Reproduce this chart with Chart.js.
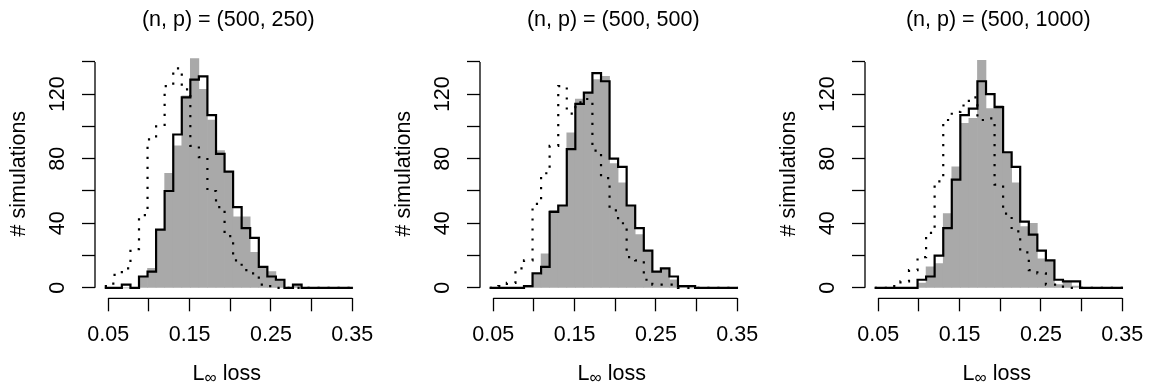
<!DOCTYPE html>
<html>
<head>
<meta charset="utf-8">
<script src="https://cdn.jsdelivr.net/npm/chart.js@4.4.1/dist/chart.umd.min.js"></script>
<style>
  html, body { margin: 0; padding: 0; background: #fff; overflow: hidden; }
  #paneles { position: relative; width: 1151px; height: 385px; overflow: hidden; }
  #paneles canvas { position: absolute; top: 0; }
</style>
</head>
<body>
<div id="paneles">
  <canvas id="panel1" width="385" height="385" style="left:0px"></canvas>
  <canvas id="panel2" width="385" height="385" style="left:385px"></canvas>
  <canvas id="panel3" width="385" height="385" style="left:770px"></canvas>
</div>
<script>
// titulos de cada panel
const titulos = ['(n, p) = (500, 250)', '(n, p) = (500, 500)', '(n, p) = (500, 1000)']

// bordes de las 29 clases del histograma (L-inf loss)
const binEdges = [
  0.0457, 0.0562, 0.0667, 0.0773, 0.0878, 0.0983, 0.1088, 0.1193, 0.1299, 0.1404,
  0.1509, 0.1614, 0.1719, 0.1825, 0.1930, 0.2035, 0.2140, 0.2245, 0.2351, 0.2456,
  0.2561, 0.2666, 0.2771, 0.2877, 0.2982, 0.3087, 0.3192, 0.3297, 0.3403, 0.3508
]

const xTicks = [0.05, 0.10, 0.15, 0.20, 0.25, 0.30, 0.35]
const xTickLabels = ['0.05', '', '0.15', '', '0.25', '', '0.35']
const yTicks = [0, 20, 40, 60, 80, 100, 120, 140]
const yTickLabels = ['0', '', '40', '', '80', '', '120', '']
const yTitle = '# simulations'
const xLabelMain = 'L'
const xLabelSub = '∞'
const xLabelRest = ' loss'

// (500, 250)
const greyHist250 = [0, 0, 0, 0, 7, 12, 36, 71, 88, 119, 142, 123, 104, 85, 72, 44, 44, 22, 13, 10, 5, 0, 1, 0, 0, 0, 0, 0, 0]
const solidStep250 = [0, 0, 2, 0, 7, 10, 36, 60, 95, 118, 129, 131, 107, 83, 72, 50, 37, 31, 13, 7, 5, 0, 2, 0, 0, 0, 0, 0, 0]
const dottedStep250 = [1, 8, 12, 24, 45, 92, 100, 125, 136, 123, 88, 81, 60, 50, 32, 17, 11, 9, 2, 1, 0, 0, 0, 0, 0, 0, 0, 0, 0]

// (500, 500)
const greyHist500 = [0, 0, 0, 0, 1, 8, 21, 48, 51, 96, 117, 121, 129, 131, 77, 65, 51, 33, 23, 10, 12, 5, 1, 0, 0, 0, 0, 0, 0]
const solidStep500 = [0, 0, 0, 0, 1, 9, 13, 47, 51, 86, 114, 121, 133, 128, 80, 75, 51, 37, 23, 10, 12, 7, 1, 1, 0, 0, 0, 0, 0]
const dottedStep500 = [0, 1, 3, 12, 17, 52, 71, 88, 125, 108, 115, 117, 85, 68, 48, 40, 19, 17, 5, 2, 2, 2, 0, 0, 0, 0, 0, 0, 0]

// (500, 1000)
const greyHist1000 = [0, 0, 0, 0, 0, 3, 13, 15, 46, 75, 102, 105, 141, 111, 113, 84, 65, 38, 40, 18, 17, 2, 4, 1, 0, 0, 0, 0, 0]
const solidStep1000 = [0, 0, 0, 0, 0, 5, 7, 20, 37, 67, 107, 111, 128, 120, 112, 84, 75, 41, 33, 23, 17, 5, 4, 4, 0, 0, 0, 0, 0]
const dottedStep1000 = [0, 0, 1, 4, 11, 19, 34, 66, 104, 109, 113, 118, 104, 105, 64, 46, 35, 22, 11, 9, 2, 2, 0, 0, 0, 0, 0, 0, 0]

Chart.defaults.font.family = "'Liberation Sans', Arial, sans-serif"

/**
 * puntos para una linea escalonada: cada conteo desde su borde izquierdo
 */
function stepPoints(counts) {
  let puntos = counts.map((c, i) => ({ x: binEdges[i], y: c }))
  puntos.push({ x: binEdges[counts.length], y: counts[counts.length - 1] })
  return puntos
}

/**
 * barras del histograma centradas en su clase
 */
function barPoints(counts) {
  return counts.map((c, i) => ({ x: (binEdges[i] + binEdges[i + 1]) / 2, y: c }))
}

/**
 * ejes al estilo R (solo entre el primer y ultimo tick) y etiqueta L∞ loss
 */
const ejesR = {
  id: 'ejesR',
  afterDraw(chart) {
    const { ctx, chartArea, scales: { x, y } } = chart
    ctx.save()
    ctx.strokeStyle = '#000'
    ctx.lineWidth = 1.3
    ctx.beginPath()
    ctx.moveTo(x.getPixelForValue(xTicks[0]), chartArea.bottom)
    ctx.lineTo(x.getPixelForValue(xTicks[xTicks.length - 1]), chartArea.bottom)
    ctx.moveTo(chartArea.left, y.getPixelForValue(yTicks[0]))
    ctx.lineTo(chartArea.left, y.getPixelForValue(yTicks[yTicks.length - 1]))
    ctx.stroke()

    const fuente = "'Liberation Sans', Arial, sans-serif"
    ctx.fillStyle = '#000'
    ctx.textBaseline = 'alphabetic'
    ctx.textAlign = 'left'
    ctx.font = '21.5px ' + fuente
    const wMain = ctx.measureText(xLabelMain).width
    const wRest = ctx.measureText(xLabelRest).width
    ctx.font = '17px ' + fuente
    const wSub = ctx.measureText(xLabelSub).width
    const centro = (chartArea.left + chartArea.right) / 2 - 1.5
    let xi = centro - (wMain + wSub + wRest) / 2
    const base = chartArea.bottom + 81.7
    ctx.font = '21.5px ' + fuente
    ctx.fillText(xLabelMain, xi, base)
    ctx.font = '17px ' + fuente
    ctx.fillText(xLabelSub, xi + wMain, base + 2.5)
    ctx.font = '21.5px ' + fuente
    ctx.fillText(xLabelRest, xi + wMain + wSub, base)
    ctx.restore()
  }
}

function crearPanel(canvasId, titulo, gris, solida, punteada) {
  const ctx = document.getElementById(canvasId)

  return new Chart(ctx, {
    type: 'bar',
    data: {
      datasets: [
        {
          type: 'line',
          label: 'solid',
          data: stepPoints(solida),
          stepped: true,
          borderColor: '#000',
          borderWidth: 2.2,
          borderJoinStyle: 'miter',
          pointRadius: 0,
          fill: false,
          order: 0
        },
        {
          type: 'line',
          label: 'dotted',
          data: stepPoints(punteada),
          stepped: true,
          borderColor: '#000',
          borderWidth: 2.2,
          borderDash: [2.2, 7.8],
          pointRadius: 0,
          fill: false,
          order: 1
        },
        {
          type: 'bar',
          label: 'hist',
          data: barPoints(gris),
          backgroundColor: '#a9a9a9',
          borderWidth: 0,
          barPercentage: 1,
          categoryPercentage: 1,
          order: 2
        }
      ]
    },
    options: {
      responsive: false,
      animation: false,
      devicePixelRatio: 1,
      layout: { padding: { left: 0, right: 22.4, top: 0, bottom: 0 } },
      plugins: {
        legend: { display: false },
        tooltip: { enabled: false },
        title: {
          display: true,
          text: titulo,
          fullSize: false,
          color: '#000',
          font: { size: 21.5, weight: 'normal' },
          padding: { top: 7, bottom: 16.2 }
        }
      },
      scales: {
        x: {
          type: 'linear',
          min: 0.0337,
          max: 0.3614,
          offset: false,
          border: { display: false },
          grid: { drawOnChartArea: false, drawTicks: true, tickLength: 13, tickColor: '#000', tickWidth: 1.3, offset: false },
          ticks: {
            color: '#000',
            font: { size: 21.5 },
            padding: 11,
            autoSkip: false,
            maxRotation: 0,
            minRotation: 0,
            callback: (v, i) => xTickLabels[i]
          },
          afterBuildTicks: axis => { axis.ticks = xTicks.map(v => ({ value: v })) },
          afterFit: axis => { axis.height = 86.7 }
        },
        y: {
          type: 'linear',
          min: -6.5,
          max: 148,
          border: { display: false },
          grid: { drawOnChartArea: false, drawTicks: true, tickLength: 13, tickColor: '#000', tickWidth: 1.3 },
          ticks: {
            color: '#000',
            font: { size: 21.5 },
            padding: 5.6,
            minRotation: 90,
            maxRotation: 90,
            crossAlign: 'center',
            autoSkip: false,
            callback: (v, i) => yTickLabels[i]
          },
          title: {
            display: true,
            text: yTitle,
            color: '#000',
            font: { size: 21.5 },
            padding: { top: 6.6, bottom: 0 }
          },
          afterBuildTicks: axis => { axis.ticks = yTicks.map(v => ({ value: v })) },
          afterFit: axis => { axis.width = 95 }
        }
      }
    },
    plugins: [ejesR]
  })
}

document.addEventListener('DOMContentLoaded', () => {
  crearPanel('panel1', titulos[0], greyHist250, solidStep250, dottedStep250)
  crearPanel('panel2', titulos[1], greyHist500, solidStep500, dottedStep500)
  crearPanel('panel3', titulos[2], greyHist1000, solidStep1000, dottedStep1000)
})
</script>
</body>
</html>
